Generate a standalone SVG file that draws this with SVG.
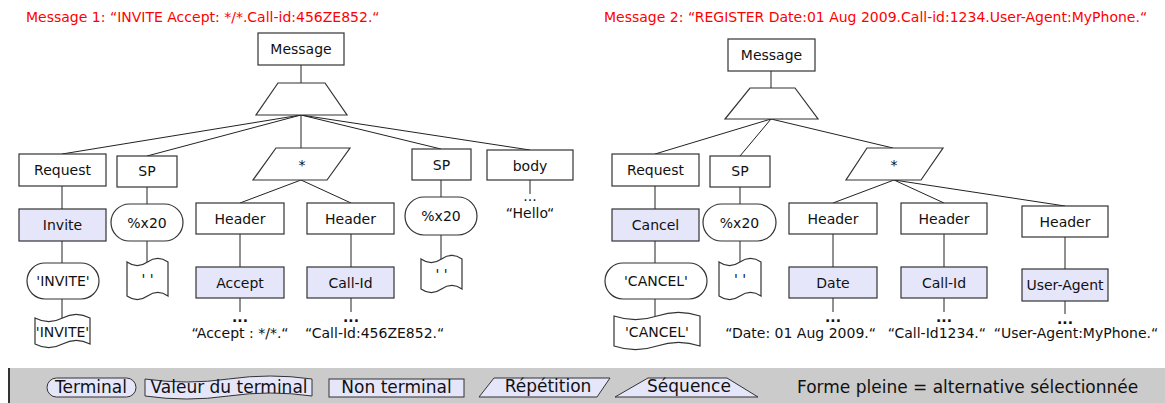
<svg xmlns="http://www.w3.org/2000/svg" width="1165" height="403" viewBox="0 0 1165 403">
<style>
text{font-family:"DejaVu Sans","Liberation Sans",sans-serif;font-size:14px;fill:#111}
.t{text-anchor:middle}
.title{fill:#f00}
.box{fill:#fff;stroke:#333;stroke-width:1.2}
.sel{fill:#e6e6fa;stroke:#333;stroke-width:1.2}
.ln{fill:none;stroke:#222;stroke-width:1}
.dots{font-weight:bold;text-anchor:middle}
.lg{font-size:17px}
.lgs{fill:#e6e6fa;stroke:#333;stroke-width:1}
</style>
<rect width="1165" height="403" fill="#fff"/>
<text class="title" x="26" y="22">Message 1: “INVITE Accept: */*.Call-id:456ZE852.“</text>
<text class="title" x="604" y="22">Message 2: “REGISTER Date:01 Aug 2009.Call-id:1234.User-Agent:MyPhone.“</text>

<g id="connectors">
<!-- left tree -->
<path class="ln" d="M301,65V83"/>
<path class="ln" d="M301,115L62,154M301,115L147,156M301,115V148M301,115L441,149M301,115L530,150"/>
<path class="ln" d="M62,186V209M62,241V263M62,299V318"/>
<path class="ln" d="M147,187V204M147,241V262"/>
<path class="ln" d="M301,180L240,203M301,180L351,203"/>
<path class="ln" d="M240,234V267M351,234V267M240,298V312M351,298V312"/>
<path class="ln" d="M441,180V197M441,235V259"/>
<path class="ln" d="M530,180V194"/>
<!-- right tree -->
<path class="ln" d="M771,71V88"/>
<path class="ln" d="M771,119L655,154M771,119L740,156M771,119L893,148"/>
<path class="ln" d="M655,186V209M655,241V263M655,299V316"/>
<path class="ln" d="M740,187V204M740,241V262"/>
<path class="ln" d="M894,180L833,203M894,180L944,203M894,180L1065,206"/>
<path class="ln" d="M833,234V267M944,234V267M1065,237V269"/>
<path class="ln" d="M833,298V312M944,298V312M1065,301V314"/>
</g>

<!-- LEFT TREE -->
<g id="l-message"><rect class="box" x="258" y="33" width="86" height="32"/><text class="t" x="301" y="54">Message</text></g>
<g id="l-seq"><path class="box" d="M278,83H325L347,115H256Z"/></g>
<g id="l-request"><rect class="box" x="19" y="154" width="87" height="32"/><text class="t" x="62.5" y="175">Request</text></g>
<g id="l-sp1"><rect class="box" x="117" y="156" width="60" height="31"/><text class="t" x="147" y="176">SP</text></g>
<g id="l-rep"><path class="box" d="M276,148H350L327,180H253Z"/><text class="t" x="302" y="170">*</text></g>
<g id="l-sp2"><rect class="box" x="412" y="149" width="59" height="31"/><text class="t" x="441.5" y="170">SP</text></g>
<g id="l-body"><rect class="box" x="487" y="150" width="86" height="30"/><text class="t" x="530" y="171">body</text></g>
<g id="l-body-val"><text class="t" x="530" y="201">...</text><text class="t" x="530" y="218">“Hello“</text></g>
<g id="l-invite"><rect class="sel" x="19" y="209" width="87" height="32"/><text class="t" x="62.5" y="230">Invite</text></g>
<g id="l-invite-term"><rect class="box" x="27" y="263" width="72" height="36" rx="18"/><text class="t" x="63" y="286">'INVITE'</text></g>
<g id="l-invite-val"><path class="box" d="M35,318Q48.75,325.2 62.5,318Q76.25,310.8 90,318L90,344Q76.25,336.8 62.5,344Q48.75,351.2 35,344Z"/><text class="t" x="62.5" y="337">'INVITE'</text></g>
<g id="l-x20a"><rect class="box" x="111" y="204" width="72" height="37" rx="18.5"/><text class="t" x="147" y="228">%x20</text></g>
<g id="l-x20a-val"><path class="box" d="M127,262Q137.25,269.2 147.5,262Q157.75,254.8 168,262L168,296Q157.75,288.8 147.5,296Q137.25,303.2 127,296Z"/><text class="t" x="147.5" y="284">' '</text></g>
<g id="l-header1"><rect class="box" x="196" y="203" width="88" height="31"/><text class="t" x="240" y="224">Header</text></g>
<g id="l-header2"><rect class="box" x="307" y="203" width="87" height="31"/><text class="t" x="350.5" y="224">Header</text></g>
<g id="l-accept"><rect class="sel" x="196" y="267" width="88" height="31"/><text class="t" x="240" y="288">Accept</text></g>
<g id="l-callid"><rect class="sel" x="307" y="267" width="87" height="31"/><text class="t" x="350.5" y="288">Call-Id</text></g>
<g id="l-accept-val"><text class="dots" x="240" y="322">...</text><text class="t" x="240" y="338">“Accept : */*.“</text></g>
<g id="l-callid-val"><text class="dots" x="351" y="322">...</text><text x="305" y="338">“Call-Id:456ZE852.“</text></g>
<g id="l-x20b"><rect class="box" x="405" y="197" width="72" height="38" rx="19"/><text class="t" x="441" y="221">%x20</text></g>
<g id="l-x20b-val"><path class="box" d="M421,259Q431.25,266.2 441.5,259Q451.75,251.8 462,259L462,289Q451.75,281.8 441.5,289Q431.25,296.2 421,289Z"/><text class="t" x="441.5" y="279">' '</text></g>

<!-- RIGHT TREE -->
<g id="r-message"><rect class="box" x="728" y="39" width="87" height="32"/><text class="t" x="771.5" y="60">Message</text></g>
<g id="r-seq"><path class="box" d="M750,88H795L818,119H725Z"/></g>
<g id="r-request"><rect class="box" x="612" y="154" width="87" height="32"/><text class="t" x="655.5" y="175">Request</text></g>
<g id="r-sp"><rect class="box" x="710" y="156" width="60" height="31"/><text class="t" x="740" y="176">SP</text></g>
<g id="r-rep"><path class="box" d="M867,148H943L921,180H846Z"/><text class="t" x="894" y="170">*</text></g>
<g id="r-cancel"><rect class="sel" x="612" y="209" width="87" height="32"/><text class="t" x="655.5" y="230">Cancel</text></g>
<g id="r-cancel-term"><rect class="box" x="605" y="263" width="102" height="36" rx="18"/><text class="t" x="656" y="286">'CANCEL'</text></g>
<g id="r-cancel-val"><path class="box" d="M614,316Q635.5,323.2 657,316Q678.5,308.8 700,316L700,346Q678.5,338.8 657,346Q635.5,353.2 614,346Z"/><text class="t" x="657" y="337">'CANCEL'</text></g>
<g id="r-x20"><rect class="box" x="703" y="204" width="73" height="37" rx="18.5"/><text class="t" x="739.5" y="228">%x20</text></g>
<g id="r-x20-val"><path class="box" d="M719,262Q729.5,269.2 740,262Q750.5,254.8 761,262L761,296Q750.5,288.8 740,296Q729.5,303.2 719,296Z"/><text class="t" x="740" y="284">' '</text></g>
<g id="r-header1"><rect class="box" x="789" y="203" width="88" height="31"/><text class="t" x="833" y="224">Header</text></g>
<g id="r-header2"><rect class="box" x="901" y="203" width="86" height="31"/><text class="t" x="944" y="224">Header</text></g>
<g id="r-header3"><rect class="box" x="1022" y="206" width="86" height="31"/><text class="t" x="1065" y="227">Header</text></g>
<g id="r-date"><rect class="sel" x="789" y="267" width="88" height="31"/><text class="t" x="833" y="288">Date</text></g>
<g id="r-callid"><rect class="sel" x="901" y="267" width="86" height="31"/><text class="t" x="944" y="288">Call-Id</text></g>
<g id="r-ua"><rect class="sel" x="1022" y="269" width="86" height="32"/><text class="t" x="1065" y="290">User-Agent</text></g>
<g id="r-date-val"><text class="dots" x="833" y="322">...</text><text style="text-anchor:end" x="876" y="338">“Date: 01 Aug 2009.“</text></g>
<g id="r-callid-val"><text class="dots" x="944" y="322">...</text><text style="text-anchor:end" x="986" y="338">“Call-Id1234.“</text></g>
<g id="r-ua-val"><text class="dots" x="1065" y="324">...</text><text class="t" x="1076" y="338">“User-Agent:MyPhone.“</text></g>

<!-- LEGEND -->
<g id="legend">
<rect x="8" y="368" width="1157" height="35" fill="#cbcbcb"/>
<path d="M9,368V403" stroke="#333" stroke-width="2"/>
<g id="lg-terminal"><rect class="lgs" x="47" y="378" width="89" height="19" rx="9.5"/><text class="lg t" x="91" y="393">Terminal</text></g>
<g id="lg-value"><path class="lgs" d="M145,379Q186.75,385 228.5,379Q270.25,373 312,379L312,396Q270.25,390 228.5,396Q186.75,402 145,396Z"/><text class="lg t" x="229" y="393">Valeur du terminal</text></g>
<g id="lg-nonterm"><rect class="lgs" x="329" y="379" width="135" height="18"/><text class="lg t" x="396.5" y="393">Non terminal</text></g>
<g id="lg-rep"><path class="lgs" d="M494,378H610L597,397H479Z"/><text class="lg t" x="548" y="392">Répétition</text></g>
<g id="lg-seq"><path class="lgs" d="M648,378H727L758,397H615Z"/><text class="lg t" x="689" y="392">Séquence</text></g>
<text class="lg" x="797" y="393">Forme pleine = alternative sélectionnée</text>
</g>
</svg>
